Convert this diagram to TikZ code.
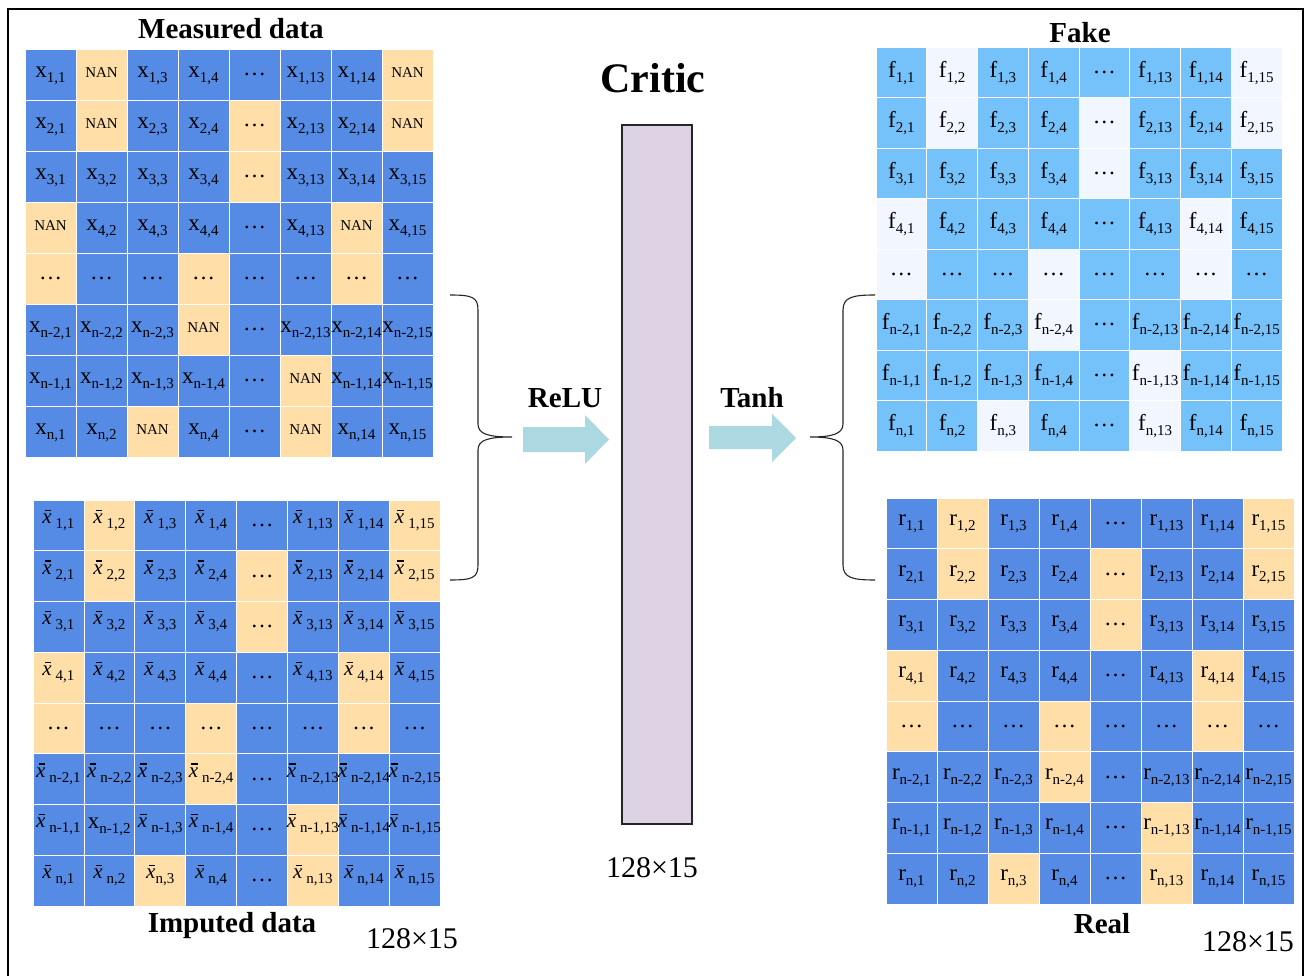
\documentclass[tikz,border=0pt]{standalone}
\usepackage{fontspec}
\setmainfont{Liberation Serif}
\definecolor{cblue}{RGB}{85,139,228}
\definecolor{ctan}{RGB}{255,222,168}
\definecolor{fblue}{RGB}{117,193,250}
\definecolor{fwhite}{RGB}{242,246,254}
\definecolor{lav}{RGB}{222,211,229}
\definecolor{arr}{RGB}{172,216,225}
\makeatletter
\newcommand\hlset{,1-2,1-8,2-2,2-5,2-8,3-5,4-1,4-7,5-1,5-4,5-7,6-4,7-6,8-3,8-6,}
\newcommand\pickcol[4]{\edef\tmp@hl{\noexpand\in@{,#1-#2,}{\hlset}}\tmp@hl
  \ifin@\def\cc{#3}\def\ishl{1}\else\def\cc{#4}\def\ishl{0}\fi}
\makeatother
\newcommand\mainf{\fontsize{23}{23}\selectfont}
\newcommand\subf{\fontsize{15}{15}\selectfont}
\newcommand\sublab[2]{{\mainf #1}\raisebox{-5pt}{\subf #2}}
\newcommand\xbarsym{\makebox[0pt][l]{\hspace{2.5pt}\raisebox{12.5pt}{\rule{6.5pt}{1.2pt}}}{\fontsize{21}{21}\selectfont\itshape x}}
\newcommand\xbarlab[2][4pt]{\xbarsym\hspace{#1}\raisebox{-5pt}{\subf #2}}
\newcommand\nanlab{{\fontsize{15}{15}\selectfont NAN}}
\newcommand\dotsl{{\mainf\ldots}}
\tikzset{
  cellbox/.style={draw=white, line width=0.8pt, inner sep=0pt, rectangle},
  lab/.style={inner sep=0pt, anchor=base},
  title/.style={font=\bfseries\fontsize{29}{29}\selectfont, inner sep=0pt, anchor=base},
  dims/.style={font=\fontsize{30}{30}\selectfont, inner sep=0pt, anchor=base},
  brace/.style={draw=black!85, line width=1.1pt},
  blockarrow/.style={fill=arr, draw=none}
}
% #1 grid name, #2 type (0 M,1 I,2 F,3 R)
\newcommand\celllabel[2]{%
  \ifnum\r=5\relax
    \node[inner sep=0pt] (#1-\r-\c-t) at (#1-\r-\c.center) {\dotsl};%
  \else\ifnum\c=5\relax
    \node[inner sep=0pt] (#1-\r-\c-t) at (#1-\r-\c.center) {\dotsl};%
  \else
    \ifcase#2\relax
      \ifnum\ishl=1\relax
        \node[lab] (#1-\r-\c-t) at ([yshift=-3pt]#1-\r-\c.center) {\nanlab};%
      \else
        \node[lab] (#1-\r-\c-t) at ([yshift=-3pt]#1-\r-\c.center) {\sublab{x}{\ri,\ci}};%
      \fi
    \or
      \ifnum\r\c=72\relax
        \node[lab] (#1-\r-\c-t) at ([yshift=1pt]#1-\r-\c.center) {\sublab{x}{\ri,\ci}};%
      \else\ifnum\r\c=83\relax
        \node[lab] (#1-\r-\c-t) at ([yshift=2pt]#1-\r-\c.center) {\xbarlab[0pt]{\ri,\ci}};%
      \else
        \node[lab] (#1-\r-\c-t) at ([yshift=2pt]#1-\r-\c.center) {\xbarlab{\ri,\ci}};%
      \fi\fi
    \or
      \node[lab] (#1-\r-\c-t) at ([yshift=-5pt]#1-\r-\c.center) {\sublab{f}{\ri,\ci}};%
    \or
      \node[lab] (#1-\r-\c-t) at ([yshift=-2pt]#1-\r-\c.center) {\sublab{r}{\ri,\ci}};%
    \fi
  \fi\fi}
% #1 name #2 x0 #3 y0 #4 w #5 h #6 base colour #7 highlight colour #8 type
\newcommand\drawgrid[8]{%
  \foreach \r/\ri in {1/1,2/2,3/3,4/4,5/x,6/n-2,7/n-1,8/n}{%
    \foreach \c/\ci in {1/1,2/2,3/3,4/4,5/x,6/13,7/14,8/15}{%
      \pickcol{\r}{\c}{#7}{#6}%
      \node[cellbox, fill=\cc, minimum width=#4pt, minimum height=#5pt]
        (#1-\r-\c) at ({#2+(\c-0.5)*#4},{#3+(\r-0.5)*#5}) {};%
      \celllabel{#1}{#8}%
    }}}
\begin{document}
\begin{tikzpicture}[x=1pt, y=-1pt]
\useasboundingbox (0,0) rectangle (1308,976);
\fill[white] (0,0) rectangle (1308,976);
\draw[line width=2pt] (8,9) rectangle (1303,990);

% grids
\drawgrid{M}{25}{49}{51}{51}{cblue}{ctan}{0}
\drawgrid{I}{33}{500}{50.9}{50.75}{cblue}{ctan}{1}
\drawgrid{F}{876}{47}{50.75}{50.5}{fblue}{fwhite}{2}
\drawgrid{R}{886}{498}{51}{50.75}{cblue}{ctan}{3}

% titles
\node[title] (tm) at (231,39) {Measured data};
\node[title] (ti) at (232,932) {Imputed data};
\node[title] (tf) at (1080,43) {Fake};
\node[title] (tr) at (1102,933) {Real};
\node[title, font=\bfseries\fontsize{42}{42}\selectfont] (tc) at (653,93) {Critic};
\node[dims] (di) at (412,948) {128×15};
\node[dims] (dc) at (652,877) {128×15};
\node[dims] (dr) at (1248,951) {128×15};

% critic column
\node[draw=black!85, line width=1.3pt, fill=lav, minimum width=70pt, minimum height=699pt, inner sep=0pt] (critic) at (657,474.5) {};

% braces
\coordinate (lb) at (512,437);
\coordinate (rb) at (810,437);
\draw[brace] (450,295) .. controls (472,295) and (478,297) .. (478,310) -- (478,424)
  .. controls (478,434) and (488,437) .. (lb)
  .. controls (488,437) and (478,440) .. (478,450) -- (478,565)
  .. controls (478,578) and (472,580) .. (450,580);
\draw[brace] (875,295) .. controls (853,295) and (843,297) .. (843,310) -- (843,424)
  .. controls (843,434) and (832,437) .. (rb)
  .. controls (832,437) and (843,440) .. (843,450) -- (843,565)
  .. controls (843,578) and (853,580) .. (875,580);

% block arrows
\fill[blockarrow] (523,427) -- (585,427) -- (585,415) -- (609,439.5) -- (585,464) -- (585,452) -- (523,452) -- cycle;
\fill[blockarrow] (709,426) -- (772,426) -- (772,414) -- (796,438) -- (772,462) -- (772,449) -- (709,449) -- cycle;
\node[title] (relu) at (565,407) {ReLU};
\node[title] (tanh) at (752,407) {Tanh};
\end{tikzpicture}
\end{document}
